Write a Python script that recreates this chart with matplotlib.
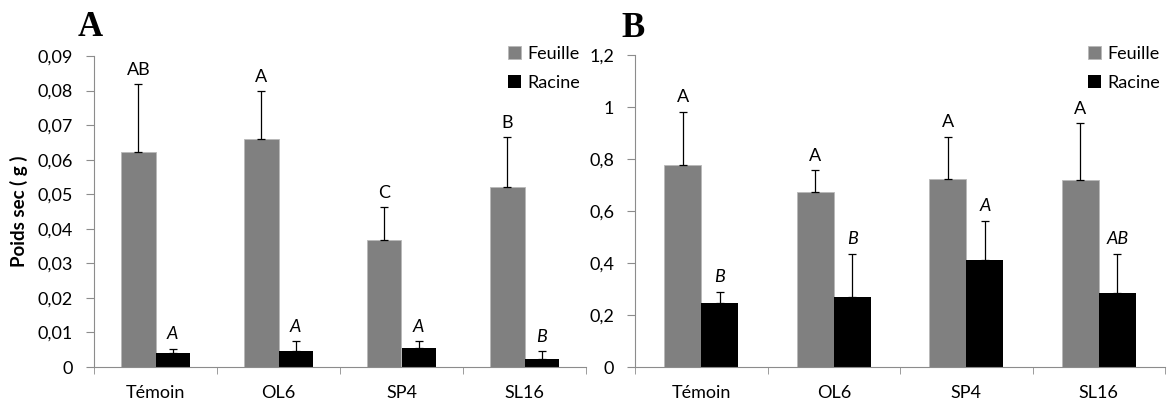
import matplotlib.pyplot as plt
import numpy as np

# données
souches = ['Témoin', 'OL6', 'SP4', 'SL16']

feuille_a = [0.0621, 0.0659, 0.0368, 0.0522]
feuille_a_err = [0.0198, 0.0140, 0.0095, 0.0143]
racine_a = [0.0041, 0.0045, 0.0056, 0.0024]
racine_a_err = [0.0012, 0.0030, 0.0020, 0.0021]
lettres_feuille_a = ['AB', 'A', 'C', 'B']
lettres_racine_a = ['A', 'A', 'A', 'B']

feuille_b = [0.776, 0.673, 0.723, 0.719]
feuille_b_err = [0.205, 0.084, 0.163, 0.219]
racine_b = [0.248, 0.270, 0.411, 0.284]
racine_b_err = [0.041, 0.165, 0.152, 0.151]
lettres_feuille_b = ['A', 'A', 'A', 'A']
lettres_racine_b = ['B', 'B', 'A', 'AB']

plt.rcParams['font.family'] = ['Lato', 'DejaVu Sans']

W, H = 1167, 405
fig = plt.figure(figsize=(W / 100, H / 100), dpi=100)
ax1 = fig.add_axes([94 / W, 1 - 367 / H, 492 / W, 311 / H])
ax2 = fig.add_axes([635 / W, 1 - 367 / H, 530 / W, 312 / H])

gris = '#808080'
axe = '#8c8c8c'
w = 0.28
fs = 13


def panneau(ax, feuille, feuille_err, racine, racine_err, lf, lr, ymax, pas, fmt, dy, leg_x):
    x = np.arange(len(souches))
    ax.bar(x - w / 2, feuille, w, color=gris, edgecolor='#b8b8b8', linewidth=0.6, label='Feuille')
    ax.bar(x + w / 2, racine, w, color='black', label='Racine')
    ax.errorbar(x - w / 2, feuille, yerr=[np.zeros(4), feuille_err], fmt='none',
                ecolor='black', elinewidth=0.9, capsize=3, capthick=0.9)
    ax.errorbar(x + w / 2, racine, yerr=[np.zeros(4), racine_err], fmt='none',
                ecolor='black', elinewidth=0.9, capsize=3, capthick=0.9)
    for i in range(4):
        ax.text(x[i] - w / 2, feuille[i] + feuille_err[i] + dy, lf[i],
                ha='center', va='bottom', fontsize=fs)
        ax.text(x[i] + w / 2, racine[i] + racine_err[i] + dy, lr[i],
                ha='center', va='bottom', fontsize=fs, style='italic')
    ax.set_xlim(-0.5, 3.5)
    ax.set_ylim(0, ymax)
    ticks = np.arange(0, ymax + pas / 2, pas)
    ax.set_yticks(ticks)
    ax.set_yticklabels([fmt(t) for t in ticks], fontsize=fs)
    ax.set_xticks(x)
    ax.set_xticklabels(souches, fontsize=fs)
    ax.set_xticks(np.arange(-0.5, 4, 1), minor=True)
    ax.tick_params(axis='x', which='major', length=0, pad=13)
    ax.tick_params(axis='x', which='minor', length=5, color=axe, direction='out')
    ax.tick_params(axis='y', length=6, color=axe, direction='out', pad=9)
    for s in ['top', 'right']:
        ax.spines[s].set_visible(False)
    for s in ['left', 'bottom']:
        ax.spines[s].set_color(axe)
    ax.legend(loc='upper left', bbox_to_anchor=(leg_x / W, 1 - 46 / H),
              bbox_transform=fig.transFigure, frameon=False, fontsize=fs,
              handlelength=0.72, handleheight=0.72, handletextpad=0.35,
              labelspacing=0.7, borderpad=0, borderaxespad=0)


def fmt_a(t):
    return '0' if t == 0 else ('%.2f' % t).replace('.', ',')


def fmt_b(t):
    s = ('%.1f' % t).replace('.', ',')
    return s.replace(',0', '') if s.endswith(',0') else s


panneau(ax1, feuille_a, feuille_a_err, racine_a, racine_a_err,
        lettres_feuille_a, lettres_racine_a, 0.09, 0.01, fmt_a, 0.0018, 508)
panneau(ax2, feuille_b, feuille_b_err, racine_b, racine_b_err,
        lettres_feuille_b, lettres_racine_b, 1.2, 0.2, fmt_b, 0.025, 1088)

ax1.set_ylabel('Poids sec ( g )', fontsize=13.5, fontweight='bold', labelpad=7)

fig.text(78 / W, 1 - 36 / H, 'A', fontsize=25, fontweight='bold', family='Liberation Serif')
fig.text(621 / W, 1 - 37 / H, 'B', fontsize=25, fontweight='bold', family='Liberation Serif')

plt.savefig('out.png', dpi=100)
